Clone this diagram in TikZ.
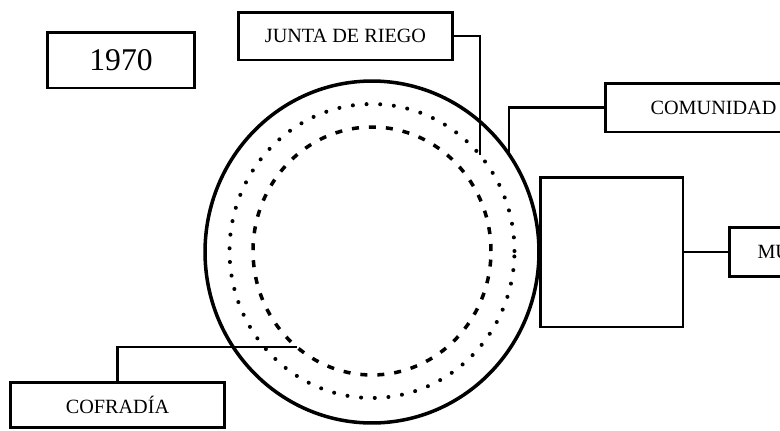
\documentclass[tikz,border=0pt]{standalone}
\usepackage{fontspec}
\setmainfont{Liberation Serif}
\tikzset{
  box/.style={draw, line width=1.7pt, rectangle, inner sep=0pt,
    font=\fontsize{11.5}{13}\selectfont},
  link/.style={draw, line width=1.5pt},
}

\begin{document}
\begin{tikzpicture}[x=0.02cm, y=-0.02cm]
    \useasboundingbox (0,0) rectangle (780,430);
    \clip (0,0) rectangle (780,430);

    % rings
    \draw[line width=2pt] (372,252) ellipse [x radius=3.34cm, y radius=3.42cm];
    \draw[line width=2.3pt, line cap=round, dash pattern=on 0pt off 0.274cm]
      (372,251) ellipse [x radius=2.85cm, y radius=2.94cm];
    \draw[line width=2pt, dash pattern=on 0.14cm off 0.2cm]
      (372,251) ellipse [x radius=2.38cm, y radius=2.48cm];

    \path
    node[box, minimum width=2.96cm, minimum height=1.12cm, font=\fontsize{18}{20}\selectfont] (year) at (121,60) {1970}
    node[box, minimum width=4.3cm, minimum height=0.96cm] (junta) at (345.5,36) {JUNTA DE RIEGO}
    node[box, minimum width=4.34cm, minimum height=0.98cm] (comunidad) at (713.5,107.5) {COMUNIDAD}
    node[box, minimum width=2.86cm, minimum height=3cm] (sq) at (611.5,252) {}
    node[box, anchor=west, minimum height=0.98cm, text width=3.5cm, align=left, inner xsep=0.56cm] (mu) at (728,252) {MU}
    node[box, minimum width=4.3cm, minimum height=0.9cm] (cofradia) at (117.5,404.5) {COFRADÍA};

    \coordinate (jend) at (480,155);
    \coordinate (cend) at (509,152);
    \coordinate (fend) at (297,347);

    \path[link]
    (junta.east) -| (jend)
    (comunidad.west) -| (cend)
    (sq.east) -- (mu.west)
    (cofradia.north) |- (fend);
\end{tikzpicture}
\end{document}
